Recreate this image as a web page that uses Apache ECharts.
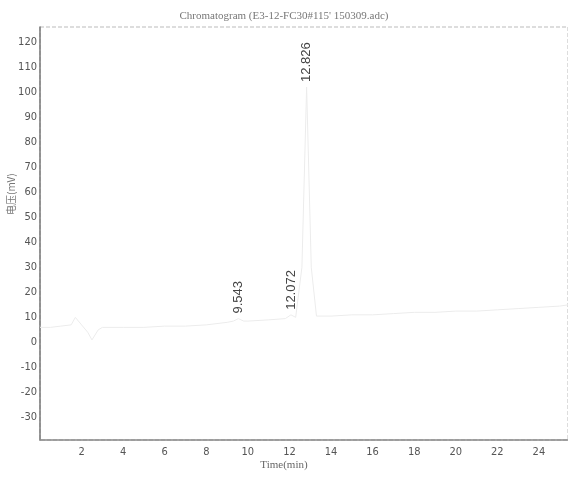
<!DOCTYPE html>
<html><head><meta charset="utf-8">
<script src="https://cdn.jsdelivr.net/npm/echarts@6/dist/echarts.min.js"></script>
<style>html,body{margin:0;padding:0;background:#fff}#c{width:568px;height:482px}</style>
</head><body><div id="c"></div>
<script>
var titleText = "Chromatogram (E3-12-FC30#115' 150309.adc)";
var xName = "Time(min)";
var yName = "电压(mV)";
var times = [0,0.5,1,1.5,1.7,2.0,2.3,2.5,2.8,3,4,5,6,7,8,9,9.3,9.543,9.8,10,11,11.8,12.072,12.3,12.6,12.826,13.05,13.3,14,15,16,17,18,19,20,21,22,23,24,25,25.4];
var signal = [6,6,6.5,7,10,7,4,1,5,6,6,6,6.5,6.5,7,8,8.5,9.5,8.5,8.5,9,9.5,11,10,30,102,30,10.5,10.5,11,11,11.5,12,12,12.5,12.5,13,13.5,14,14.5,15];
var peakTimes = [9.543, 12.072, 12.826];
var peakLabels = ["9.543", "12.072", "12.826"];
var xTicks = [2,4,6,8,10,12,14,16,18,20,22,24];
var yTicks = [-30,-20,-10,0,10,20,30,40,50,60,70,80,90,100,110,120];

var data = times.map(function(t,i){return [t, signal[i]];});
var peaks = peakTimes.map(function(t,i){
  var idx = times.indexOf(t);
  return {coord:[t, signal[idx]], value: peakLabels[i]};
});
var narrow = '"Liberation Sans Narrow","DejaVu Sans Condensed",sans-serif';
var chart = echarts.init(document.getElementById('c'));
chart.setOption({
  animation:false,
  backgroundColor:'#fff',
  title:{text:titleText,left:'center',top:6,textStyle:{fontSize:11,fontWeight:'normal',color:'#777',fontFamily:'"Liberation Serif",serif'}},
  grid:{left:40,right:0,top:27,bottom:42,show:true,borderColor:'#bbb',borderWidth:1,borderType:'dashed'},
  xAxis:{type:'value',min:0,max:25.4,
    axisLine:{show:true,onZero:false,lineStyle:{color:'#888',width:1.5}},
    axisTick:{show:false},
    splitLine:{show:false},
    axisLabel:{customValues:xTicks,margin:7,fontSize:11,color:'#555',fontFamily:narrow}},
  yAxis:{type:'value',min:-39,max:126,
    axisLine:{show:true,lineStyle:{color:'#777',width:1.5}},
    axisTick:{show:false},
    splitLine:{show:false},
    axisLabel:{customValues:yTicks,margin:3,fontSize:11,color:'#555',fontFamily:narrow}},
  series:[{type:'line',data:data,symbol:'none',lineStyle:{color:'#ececec',width:1},
    markPoint:{symbol:'circle',symbolSize:0,data:peaks,
      label:{show:true,position:'top',distance:5,rotate:90,align:'left',verticalAlign:'middle',
        formatter:function(p){return p.value;},fontSize:13,color:'#444',fontFamily:'"Liberation Sans",sans-serif'}}}],
  graphic:[
    {type:'text',left:'center',top:460,style:{text:xName,fontSize:11,fill:'#666',fontFamily:'"Liberation Serif",serif'}},
    {type:'text',x:6,y:215,rotation:Math.PI/2,style:{text:yName,fontSize:10,fill:'#777',fontFamily:'"Noto Sans CJK SC",sans-serif'}}
  ]
});
</script></body></html>
